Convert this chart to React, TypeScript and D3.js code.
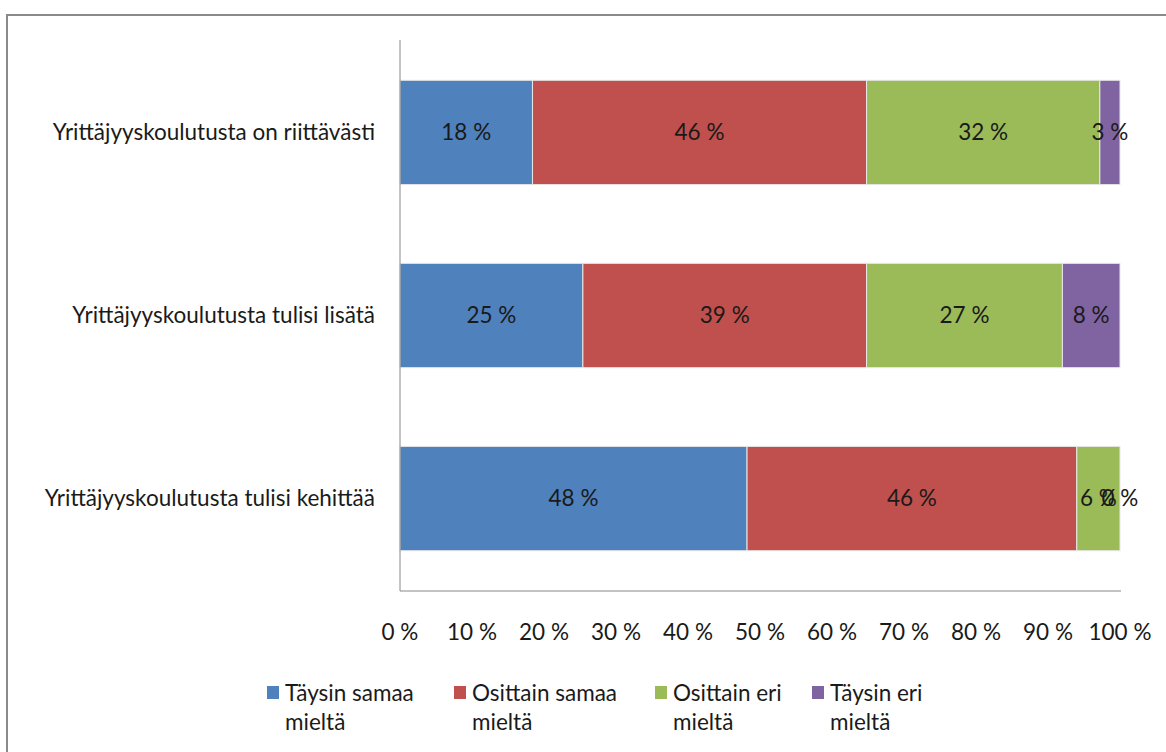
import * as d3 from 'd3';

const categories = [
  'Yrittäjyyskoulutusta on riittävästi',
  'Yrittäjyyskoulutusta tulisi lisätä',
  'Yrittäjyyskoulutusta tulisi kehittää',
];

const seriesNames = [
  ['Täysin samaa', 'mieltä'],
  ['Osittain samaa', 'mieltä'],
  ['Osittain eri', 'mieltä'],
  ['Täysin eri', 'mieltä'],
];

const colors = ['#4F81BD', '#C0504D', '#9BBB59', '#8064A2'];

// percentages per category, in series order
const taysinSamaa = [18.4, 25.4, 48.2];
const osittainSamaa = [46.4, 39.4, 45.8];
const osittainEri = [32.4, 27.2, 6.0];
const taysinEri = [2.8, 8.0, 0];

const xTicks = [0, 10, 20, 30, 40, 50, 60, 70, 80, 90, 100];

const W = 1166;
const H = 752;
const font = 'Lato, "Open Sans", sans-serif';
const fs = 22.5;

export default function App() {
  const series = [taysinSamaa, osittainSamaa, osittainEri, taysinEri];
  const x = d3.scaleLinear().domain([0, 100]).range([400, 1120]);
  const y = d3.scaleBand().domain(categories).range([40, 591]).paddingInner(0.43).paddingOuter(0.22);

  const rows = categories.map((c, i) => {
    const vals = series.map((s) => s[i]);
    const total = d3.sum(vals);
    let acc = 0;
    return vals.map((v, k) => {
      const start = (acc / total) * 100;
      acc += v;
      return { cat: c, k, v, x0: start, x1: (acc / total) * 100 };
    });
  });

  const legendX = [267, 454, 655, 812];

  return (
    <svg width={W} height={H} style={{ position: 'absolute', left: 0, top: 0, background: '#fff' }} fontFamily={font}>
      <rect x={7} y={15} width={W + 20} height={H + 20} fill="#fff" stroke="#8a8a8a" strokeWidth={2} />
      {rows.map((segs) =>
        segs.map((s) => (
          <rect
            key={s.cat + s.k}
            x={x(s.x0)}
            y={y(s.cat)}
            width={Math.max(0, x(s.x1) - x(s.x0))}
            height={y.bandwidth()}
            fill={colors[s.k]}
            stroke="#e8e8e8"
            strokeWidth={s.x1 > s.x0 ? 1 : 0}
          />
        ))
      )}
      <line x1={400} x2={400} y1={40} y2={591} stroke="#888" strokeWidth={1} />
      <line x1={400} x2={1121} y1={591} y2={591} stroke="#888" strokeWidth={1} />
      {rows.map((segs) =>
        segs.map((s) => (
          <text
            key={'l' + s.cat + s.k}
            x={(x(s.x0) + x(s.x1)) / 2}
            y={(y(s.cat) ?? 0) + y.bandwidth() / 2}
            dy="0.35em"
            textAnchor="middle"
            fontSize={fs}
            fill="#1a1a1a"
          >
            {`${Math.round(s.v)} %`}
          </text>
        ))
      )}
      {categories.map((c) => (
        <text
          key={c}
          x={375}
          y={(y(c) ?? 0) + y.bandwidth() / 2}
          dy="0.35em"
          textAnchor="end"
          fontSize={fs}
          fill="#1a1a1a"
        >
          {c}
        </text>
      ))}
      {xTicks.map((t) => (
        <text key={t} x={x(t)} y={632} dy="0.35em" textAnchor="middle" fontSize={fs} fill="#1a1a1a">
          {`${t} %`}
        </text>
      ))}
      {seriesNames.map((n, i) => (
        <g key={n[0]}>
          <rect x={legendX[i]} y={686} width={12} height={13} fill={colors[i]} />
          <text x={legendX[i] + 18} y={693} dy="0.35em" fontSize={fs} fill="#1a1a1a">
            {n[0]}
          </text>
          <text x={legendX[i] + 18} y={722} dy="0.35em" fontSize={fs} fill="#1a1a1a">
            {n[1]}
          </text>
        </g>
      ))}
    </svg>
  );
}
